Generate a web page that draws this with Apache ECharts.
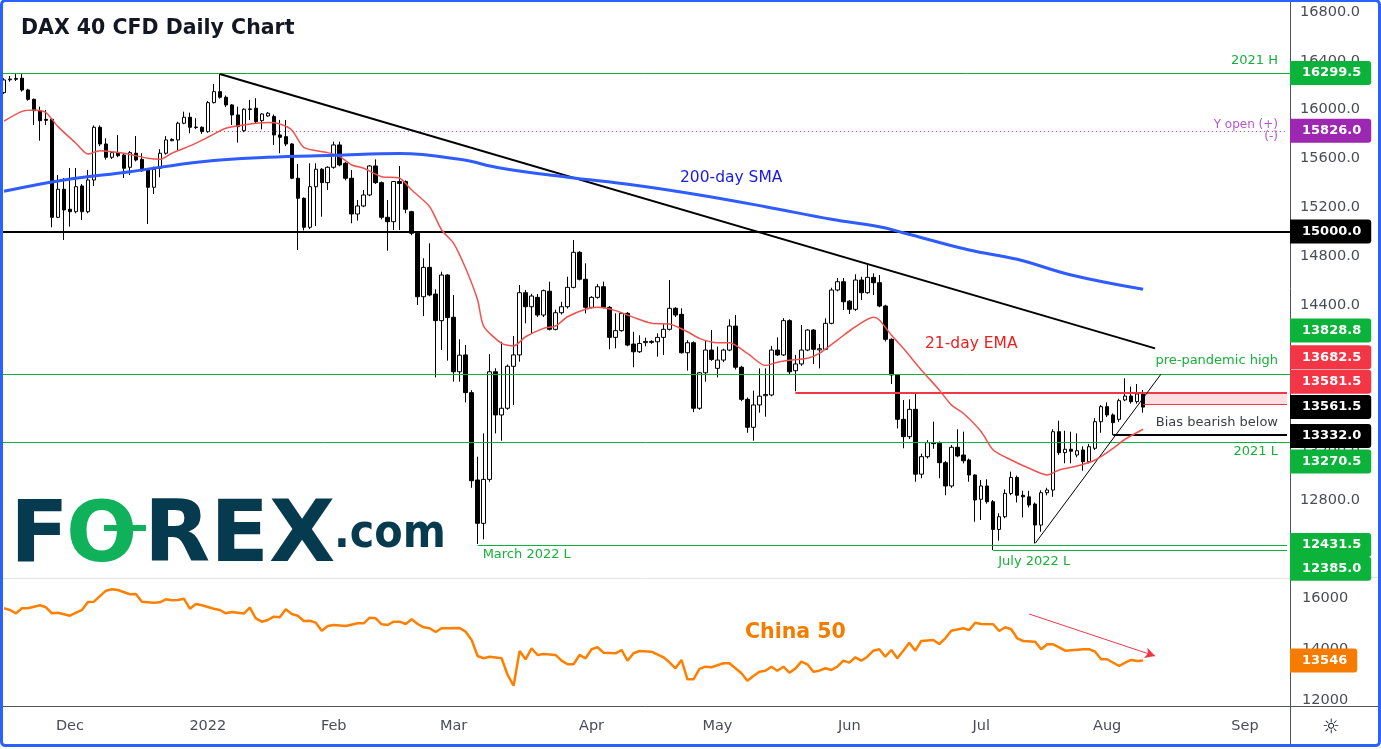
<!DOCTYPE html>
<html><head><meta charset="utf-8">
<script src="https://cdn.jsdelivr.net/npm/echarts@6/dist/echarts.min.js"></script>
<style>html,body{margin:0;padding:0;background:#fff}#c{width:1381px;height:749px}</style>
</head><body><div id="c"></div>
<script>
// ---------------- DATA ----------------
const firstSession = '2021-11-16';
const sessionCount = 215;
const monthTicks = {'2021-12-01':'Dec','2022-01-03':'2022','2022-02-01':'Feb','2022-03-01':'Mar','2022-04-01':'Apr','2022-05-02':'May','2022-06-01':'Jun','2022-07-01':'Jul','2022-08-01':'Aug','2022-09-01':'Sep'};

// DAX 40 CFD daily [open, high, low, close]
const daxOHLC = [
[16139,16257,16128,16243],[16244,16275,16229,16250],[16248,16297,16234,16255],[16257,16297,16147,16160],[16161,16170,16073,16084],
[16084,16090,15874,15991],[15991,16024,15745,15909],[15920,15997,15874,15912],[15920,15925,15035,15117],[15117,15464,15110,15347],
[15347,15439,14931,15177],[15183,15521,15040,15163],[15163,15521,15150,15368],[15374,15390,15095,15163],[15163,15505,15150,15423],
[15423,15870,15374,15855],[15855,15870,15700,15718],[15718,15765,15590,15609],[15609,15660,15595,15647],[15647,15791,15610,15622],
[15628,15640,15439,15519],[15527,15660,15464,15647],[15642,15783,15575,15587],[15592,15642,15490,15499],[15505,15510,15062,15363],
[15363,15532,15308,15511],[15519,15675,15445,15642],[15642,15783,15630,15751],[15745,15765,15740,15755],[15751,15901,15669,15888],
[15888,15983,15880,15937],[15937,15975,15806,15855],[15853,15929,15840,15857],[15855,15862,15800,15819],[15819,16070,15810,16057],
[16057,16210,16050,16147],[16147,16292,16090,16101],[16101,16115,16020,16038],[16038,16045,15874,15956],[15956,16024,15729,15860],
[15827,16010,15815,16003],[16000,16079,15915,16006],[16011,16093,15890,15901],[15909,15970,15838,15964],[15948,15980,15940,15970],
[15944,15960,15710,15792],[15792,15915,15642,15773],[15778,15915,15700,15718],[15718,15725,15430,15437],[15437,15554,14849,15273],
[15273,15280,15010,15035],[15035,15560,15020,15368],[15368,15560,15046,15511],[15511,15520,15122,15401],[15401,15535,15341,15527],
[15527,15737,15515,15710],[15710,15737,15535,15546],[15560,15570,15420,15437],[15437,15505,15068,15144],[15144,15259,15090,15210],
[15210,15341,15200,15300],[15300,15545,15290,15538],[15538,15592,15390,15401],[15401,15410,15100,15117],[15117,15259,14843,15081],
[15081,15415,15013,15410],[15410,15538,15013,15395],[15410,15420,15150,15183],[15163,15170,14970,14986],[14986,14990,14398,14466],
[14466,14781,14307,14707],[14707,14904,14470,14480],[14488,14527,13805,14270],[14270,14671,14029,14644],[14644,14650,13942,14295],
[14298,14480,13770,13851],[13851,14117,13770,13987],[13989,14070,13600,13680],[13680,13700,12900,12958],[12964,13155,12439,12609],
[12609,13346,12478,12969],[12969,13995,12950,13851],[13851,13880,13346,13497],[13497,14097,13286,13552],[13552,13910,13540,13896],
[13896,14144,13579,13989],[13989,14562,13934,14499],[14499,14521,14248,14384],[14384,14490,14166,14472],[14461,14488,14300,14316],
[14316,14525,14300,14516],[14511,14589,14190,14199],[14199,14360,14190,14335],[14335,14425,14320,14384],[14384,14630,14370,14543],
[14543,14931,14535,14830],[14830,14840,14600,14609],[14609,14740,14330,14379],[14379,14470,14370,14461],[14461,14570,14450,14548],
[14548,14590,14370,14379],[14379,14390,14035,14133],[14133,14330,14043,14188],[14188,14340,14180,14330],[14330,14340,14060,14070],
[14078,14179,13888,14015],[14015,14150,14005,14083],[14090,14130,14060,14100],[14100,14110,14080,14092],[14097,14166,13975,14133],
[14133,14242,13989,14199],[14199,14603,14190,14371],[14371,14380,14300,14316],[14322,14371,14000,14007],[14007,14110,13860,14089],
[14089,14100,13520,13552],[13552,13850,13540,13843],[13843,14106,13770,14029],[14029,14193,13940,13952],[13879,14057,13805,13947],
[13947,14040,13930,14029],[14029,14281,14020,14226],[14226,14316,13870,13888],[13888,13900,13610,13625],[13625,13640,13351,13396],
[13396,13696,13286,13579],[13579,13879,13516,13651],[13655,13879,13483,13665],[13661,14062,13650,14029],[14029,14133,13980,13989],
[13989,14290,13980,14270],[14270,14281,13833,13851],[13860,13989,13691,13915],[13915,14234,13900,14029],[14029,14200,14020,14193],
[14193,14200,13915,14035],[14030,14078,13879,14040],[14035,14289,14030,14248],[14248,14540,14240,14521],[14521,14620,14510,14589],
[14589,14620,14357,14425],[14430,14440,14324,14363],[14363,14650,14350,14603],[14603,14630,14439,14499],[14499,14726,14490,14625],
[14625,14658,14480,14581],[14581,14644,14380,14390],[14390,14400,14100,14117],[14117,14125,13751,13825],[13825,13830,13387,13461],
[13461,13620,13224,13319],[13319,13625,13300,13543],[13543,13680,12950,13012],[13012,13180,12978,13155],[13155,13290,13140,13270],
[13268,13442,13220,13262],[13265,13280,12978,13106],[13106,13120,12839,12915],[12915,13250,12900,13232],[13232,13380,13150,13161],
[13169,13360,13100,13122],[13128,13140,12950,13005],[13005,13010,12622,12800],[12806,12964,12636,12915],[12915,12970,12770,12786],
[12786,12800,12390,12559],[12559,12691,12467,12663],[12663,12887,12650,12854],[12854,13032,12840,12985],[12985,13000,12780,12839],
[12839,12876,12658,12826],[12826,12876,12740,12759],[12767,12780,12445,12595],[12595,12880,12540,12860],[12860,12900,12839,12882],
[12882,13380,12826,13360],[13360,13450,13170,13188],[13188,13368,13101,13216],[13216,13360,13100,13200],[13169,13346,13150,13204],
[13210,13240,13040,13114],[13114,13260,13100,13237],[13224,13470,13210,13442],[13442,13579,13351,13565],[13565,13600,13480,13497],
[13497,13510,13332,13434],[13461,13630,13440,13614],[13620,13798,13610,13652],[13652,13729,13590,13606],[13606,13751,13590,13669],
[13669,13702,13516,13561.5]
];

// [session index, value]
const ema21 = [[0,15905],[3,15985],[5,15997],[7,15975],[9,15860],[12,15724],[14,15636],[16,15663],[20,15642],[24,15601],[26,15592],[28,15642],[31,15702],[34,15773],[37,15847],[40,15874],[44,15893],[46,15882],[48,15833],[50,15691],[54,15647],[56,15614],[58,15546],[60,15519],[63,15450],[66,15437],[68,15341],[71,15204],[73,15013],[75,14904],[77,14699],[79,14439],[80,14226],[83,14084],[85,14062],[87,14138],[90,14207],[92,14226],[94,14302],[97,14363],[99,14379],[102,14352],[105,14297],[108,14248],[111,14242],[114,14179],[116,14125],[119,14089],[121,14089],[124,14002],[127,13902],[129,13929],[131,13945],[134,13962],[136,14002],[139,14111],[142,14220],[145,14297],[146,14275],[148,14152],[150,14043],[153,13866],[156,13702],[158,13580],[160,13511],[163,13360],[165,13210],[168,13128],[171,13060],[174,13005],[176,13046],[179,13079],[182,13128],[185,13224],[187,13298],[190,13380]];

const sma200 = [[0,15330],[10,15423],[21,15491],[33,15573],[44,15609],[55,15625],[66,15640],[76,15592],[83,15519],[94,15445],[105,15382],[116,15300],[127,15204],[138,15101],[146,15040],[150,14991],[161,14849],[169,14773],[178,14644],[190,14527]];

const china50 = [[0,15596],[1,15530],[2,15400],[3,15596],[4,15596],[6,15714],[7,15635],[8,15400],[9,15424],[11,15306],[13,15530],[14,15843],[15,15855],[17,16286],[18,16341],[19,16314],[21,16145],[22,16157],[23,15855],[25,15816],[26,15831],[27,15949],[28,15910],[29,15922],[30,15973],[31,15581],[32,15765],[33,15714],[35,15581],[36,15530],[37,15400],[38,15451],[40,15388],[41,15620],[42,15204],[43,15071],[44,15138],[45,15267],[46,15243],[47,15557],[48,15373],[49,15306],[50,15098],[51,15110],[52,15032],[53,14718],[54,14902],[55,14942],[57,14902],[59,15008],[60,15008],[61,15228],[62,15204],[63,14969],[64,14942],[65,15071],[66,15071],[67,14981],[68,15165],[69,14981],[70,14851],[71,14812],[72,14667],[73,14812],[74,14812],[76,14824],[77,14679],[78,14354],[79,13726],[80,13636],[81,13699],[83,13636],[84,12982],[85,12562],[86,13922],[87,13597],[88,14028],[89,13766],[90,13805],[92,13766],[93,13542],[94,13401],[95,13401],[96,13766],[97,13636],[98,13989],[99,14067],[100,13856],[102,13832],[103,13962],[104,13542],[105,13832],[106,13922],[108,13895],[110,13675],[111,13479],[112,13244],[113,13570],[114,12813],[115,12813],[116,13220],[117,13307],[118,13283],[120,13440],[121,13440],[123,13048],[124,12758],[125,12942],[126,13111],[127,13150],[128,13307],[129,13150],[130,13307],[131,13072],[132,13229],[133,13503],[134,13401],[135,13111],[136,13150],[137,13244],[138,13178],[139,13307],[140,13542],[141,13464],[142,13675],[143,13542],[144,13699],[145,13934],[146,13989],[147,13699],[148,13962],[149,13636],[150,13934],[151,14248],[152,13934],[153,14314],[155,14354],[156,14197],[157,14420],[158,14718],[160,14812],[161,14746],[162,15032],[163,14981],[165,14969],[166,14706],[167,14851],[168,14773],[169,14420],[170,14314],[172,14287],[173,13989],[174,14185],[175,14185],[176,14067],[177,13934],[180,13989],[181,13989],[182,13895],[183,13597],[184,13597],[186,13334],[187,13464],[188,13570],[189,13530],[190,13546]];

// price levels
const level2021H = 16299.5, yearOpen = 15826.0, level15000 = 15000.0, prePandemicHigh = 13828.8;
const resistTop = 13682.5, resistBottom = 13581.5, lastPrice = 13561.5, biasLevel = 13332.0;
const level2021L = 13270.5, march2022L = 12431.5, july2022L = 12385.0, chinaLast = 13546;
// trendlines: [session index, price]
const downTrend = [[36,16292],[191.8,14043]];
const upTrend = [[172,12445],[193,13833]];
const chinaArrow = [[171,15373],[192,13726]];
const segStart = {yearOpen:34, resist:132, zone:190, bias:185, march:79, july:165};

// ---------------- BUILD ----------------
function weekdays(start, n){const out=[];const d=new Date(start+'T00:00:00Z');while(out.length<n){const w=d.getUTCDay();if(w!==0&&w!==6)out.push(d.toISOString().slice(0,10));d.setUTCDate(d.getUTCDate()+1);}return out;}
const cats = weekdays(firstSession, sessionCount);
const lastIdx = sessionCount - 1;
const FONT = 'DejaVu Sans';
const GREEN = '#0cb33b', GREEN_TXT = '#16b03a', RED = '#f23645', PURPLE = '#9c27b0', ORANGE = '#f57c00';
const candles = daxOHLC.map(r => [r[0], r[3], r[2], r[1]]);

function seg(a, b, v, style, label){ return [{coord:[a, v], lineStyle: style, label: label || {show:false}}, {coord:[b, v]}]; }

const levelLines = [
  {yAxis: level2021H, lineStyle:{color:GREEN, width:1, type:'solid'}, label:{show:true, position:'insideEndTop', formatter:'2021 H', color:GREEN_TXT, fontSize:13, distance:[12,6]}},
  seg(segStart.yearOpen, lastIdx, yearOpen, {color:'#9c27b0', width:1, type:[1,3]}, {show:true, position:'insideEnd', formatter:'Y open (+)\n(-)', color:'#b457cc', fontSize:12, lineHeight:12, distance:[9,0], align:'right'}),
  {yAxis: level15000, lineStyle:{color:'#000', width:2, type:'solid'}, label:{show:false}},
  {yAxis: prePandemicHigh, lineStyle:{color:GREEN, width:1, type:'solid'}, label:{show:true, position:'insideEndTop', formatter:'pre-pandemic high', color:GREEN_TXT, fontSize:13, distance:[12,7]}},
  seg(segStart.resist, lastIdx, resistTop, {color:RED, width:2, type:'solid'}),
  seg(segStart.zone, lastIdx, resistBottom, {color:RED, width:1, type:'solid'}),
  seg(segStart.bias, lastIdx, biasLevel, {color:'#000', width:2, type:'solid'}, {show:true, position:'insideEndTop', formatter:'Bias bearish below', color:'#3b3e47', fontSize:13, distance:[9,6]}),
  {yAxis: level2021L, lineStyle:{color:GREEN, width:1, type:'solid'}, label:{show:true, position:'insideEndBottom', formatter:'2021 L', color:GREEN_TXT, fontSize:13, distance:[12,3]}},
  seg(segStart.march, lastIdx, march2022L, {color:GREEN, width:1, type:'solid'}, {show:true, position:'insideStartBottom', formatter:'March 2022 L', color:GREEN_TXT, fontSize:13, distance:[5,3]}),
  seg(segStart.july, lastIdx, july2022L, {color:GREEN, width:1, type:'solid'}, {show:true, position:'insideStartBottom', formatter:'July 2022 L', color:GREEN_TXT, fontSize:13, distance:[5,4]}),
  [{coord: downTrend[0], lineStyle:{color:'#000', width:2, type:'solid'}, label:{show:false}}, {coord: downTrend[1]}],
  [{coord: upTrend[0], lineStyle:{color:'#000', width:1, type:'solid'}, label:{show:false}}, {coord: upTrend[1]}]
];

// right axis price tags (label boxes); offsets reproduce the stacked layout of the original
const tagStyle = [
  [level2021H, GREEN, 0], [yearOpen, PURPLE, 0], [level15000, '#000', 0], [prePandemicHigh, GREEN, -44],
  [resistTop, RED, -35], [resistBottom, RED, -23], [lastPrice, '#000', 0], [biasLevel, '#000', 1],
  [level2021L, GREEN, 19], [march2022L, GREEN, 0], [july2022L, GREEN, 18]
];
function tag(v, bg, dy, txt){ return {yAxis: v, lineStyle:{color:'rgba(0,0,0,0)', width:0}, label:{show:true, position:'end', distance:0, offset:[0,dy], formatter: txt, color:'#fff', backgroundColor:bg, fontWeight:'bold', fontSize:13, padding:[6,10,5,12], borderRadius:[0,3,3,0], fontFamily:FONT}}; }
const tags = tagStyle.map(t => tag(t[0], t[1], t[2], t[0].toFixed(1)));

const option = {
  animation: false,
  backgroundColor: '#ffffff',
  textStyle: {fontFamily: FONT},
  title: {text:'DAX 40 CFD Daily Chart', left:21, top:18, padding:0, textStyle:{fontSize:20.5, fontWeight:'bold', color:'#131722', fontFamily:FONT}},
  grid: [
    {left:1, right:91, top:0, height:577},
    {left:1, right:91, top:578, height:128}
  ],
  xAxis: [
    {type:'category', gridIndex:0, data:cats, show:false, boundaryGap:true},
    {type:'category', gridIndex:1, data:cats, boundaryGap:true, axisLine:{show:true, lineStyle:{color:'#50535e', width:1}}, axisTick:{show:false},
     axisLabel:{interval:(i, v) => !!monthTicks[v], formatter: v => monthTicks[v] || '', color:'#4a4d57', fontSize:14.5, margin:13, fontFamily:FONT}, splitLine:{show:false}},
    {type:'category', gridIndex:1, data:cats, position:'top', boundaryGap:true, axisLine:{show:true, lineStyle:{color:'#e0e3eb', width:1}}, axisTick:{show:false}, axisLabel:{show:false}, splitLine:{show:false}}
  ],
  yAxis: [
    {type:'value', gridIndex:0, position:'right', min:12169, max:16898, minInterval:400, maxInterval:400, splitLine:{show:false},
     axisLine:{show:true, lineStyle:{color:'#50535e'}}, axisTick:{show:false},
     axisLabel:{formatter: v => (Math.abs(v % 400) < 1e-6 ? v.toFixed(1) : ''), color:'#4a4d57', fontSize:14.5, margin:10, fontFamily:FONT}},
    {type:'value', gridIndex:1, position:'right', min:11765, max:16784, minInterval:2000, maxInterval:2000, splitLine:{show:false},
     axisLine:{show:true, lineStyle:{color:'#50535e'}}, axisTick:{show:false},
     axisLabel:{formatter: v => (Math.abs(v % 2000) < 1e-6 ? String(v) : ''), color:'#4a4d57', fontSize:14.5, margin:12, fontFamily:FONT}}
  ],
  series: [
    {type:'candlestick', name:'DAX 40', xAxisIndex:0, yAxisIndex:0, data:candles, barWidth:4, z:2,
     itemStyle:{color:'#ffffff', color0:'#000000', borderColor:'#000000', borderColor0:'#000000', borderWidth:1},
     markLine:{silent:true, symbol:['none','none'], precision:1, data:levelLines, z:3},
     markArea:{silent:true, itemStyle:{color:'rgba(242,54,69,0.16)'}, data:[[{coord:[segStart.zone, resistTop]}, {coord:[lastIdx, resistBottom]}]]}},
    {type:'line', name:'21-day EMA', xAxisIndex:0, yAxisIndex:0, data:ema21, symbol:'none', smooth:0.25, lineStyle:{color:'#f0524f', width:1.5}, z:4},
    {type:'line', name:'200-day SMA', xAxisIndex:0, yAxisIndex:0, data:sma200, symbol:'none', smooth:0.4, lineStyle:{color:'#2f5cff', width:3}, z:4,
     markLine:{silent:true, symbol:['none','none'], data:tags, z:10}},
    {type:'line', name:'China 50', xAxisIndex:1, yAxisIndex:1, data:china50, symbol:'none', lineStyle:{color:'#ff8000', width:2.5}, z:4,
     markLine:{silent:true, symbol:['none','none'], data:[
       tag(chinaLast, ORANGE, 0, String(chinaLast)),
       [{coord:chinaArrow[0], symbol:'none', lineStyle:{color:RED, width:1, type:'solid'}, label:{show:false}}, {coord:chinaArrow[1], symbol:'arrow', symbolSize:[8,10]}]
     ], z:10}}
  ],
  graphic: [
    {type:'text', x:680, y:178, style:{text:'200-day SMA', fill:'#1a1ae6', font:'15.5px "DejaVu Sans"', verticalAlign:'middle'}},
    {type:'text', x:925, y:344, style:{text:'21-day EMA', fill:'#f01e1e', font:'15.5px "DejaVu Sans"', verticalAlign:'middle'}},
    {type:'text', x:745, y:633, style:{text:'China 50', fill:ORANGE, font:'bold 20.5px "DejaVu Sans"', verticalAlign:'middle'}},
    // FOREX.com logo
    {type:'text', x:10, y:539, style:{text:'F', fill:'#063a4f', font:'bold 86px "DejaVu Sans"', verticalAlign:'middle'}},
    {type:'text', x:66, y:539, style:{text:'O', fill:'#0fb15a', font:'bold 84px "DejaVu Sans"', verticalAlign:'middle'}},
    {type:'rect', shape:{x:104, y:525, width:42, height:6}, style:{fill:'#0fb15a'}},
    {type:'text', x:144, y:539, style:{text:'REX', fill:'#063a4f', font:'bold 86px "DejaVu Sans"', verticalAlign:'middle'}},
    {type:'text', x:334, y:535, style:{text:'.com', fill:'#063a4f', font:'bold 46px "DejaVu Sans Condensed", "DejaVu Sans"', verticalAlign:'middle'}},
    // frame and panel separators
    {type:'line', shape:{x1:1290, y1:577.5, x2:1380, y2:577.5}, style:{stroke:'#e0e3eb', lineWidth:1}},
    {type:'line', shape:{x1:1290, y1:706.5, x2:1380, y2:706.5}, style:{stroke:'#50535e', lineWidth:1}},
    {type:'line', shape:{x1:1290.5, y1:706, x2:1290.5, y2:745}, style:{stroke:'#50535e', lineWidth:1}},
    {type:'text', x:1331, y:728, style:{text:'\u263C', fill:'#131722', font:'20px "DejaVu Sans"', align:'center', verticalAlign:'middle'}},
    {type:'rect', shape:{x:1.5, y:0.5, width:1378, height:745, r:4}, style:{fill:'none', stroke:'#2962ff', lineWidth:3}, z:100}
  ]
};
const chart = echarts.init(document.getElementById('c'), null, {renderer:'canvas', width:1381, height:749});
chart.setOption(option);
</script></body></html>
